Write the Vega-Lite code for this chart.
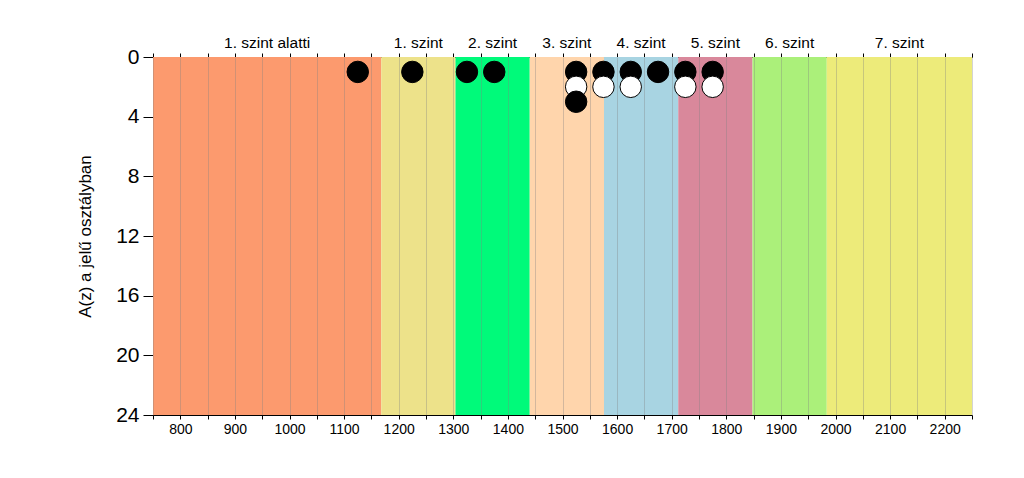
{
  "$schema": "https://vega.github.io/schema/vega-lite/v6.json",
  "width": 819,
  "height": 358,
  "autosize": {"type": "none"},
  "padding": {"left": 153, "top": 57, "right": 52, "bottom": 63},
  "background": "white",
  "config": {
    "view": {"stroke": null},
    "font": "Liberation Sans",
    "axis": {
      "labelColor": "black",
      "titleColor": "black",
      "domainColor": "black",
      "tickColor": "black",
      "labelFont": "Liberation Sans",
      "titleFont": "Liberation Sans"
    }
  },
  "datasets": {
    "bands": [
      {"band": "1. szint alatti", "start": 750, "end": 1168},
      {"band": "1. szint", "start": 1168, "end": 1304},
      {"band": "2. szint", "start": 1304, "end": 1440},
      {"band": "3. szint", "start": 1440, "end": 1576},
      {"band": "4. szint", "start": 1576, "end": 1712},
      {"band": "5. szint", "start": 1712, "end": 1848},
      {"band": "6. szint", "start": 1848, "end": 1984},
      {"band": "7. szint", "start": 1984, "end": 2250}
    ],
    "points": [
      {"score": 1125, "count": 1, "group": "A"},
      {"score": 1225, "count": 1, "group": "A"},
      {"score": 1325, "count": 1, "group": "A"},
      {"score": 1375, "count": 1, "group": "A"},
      {"score": 1525, "count": 1, "group": "A"},
      {"score": 1575, "count": 1, "group": "A"},
      {"score": 1625, "count": 1, "group": "A"},
      {"score": 1675, "count": 1, "group": "A"},
      {"score": 1725, "count": 1, "group": "A"},
      {"score": 1775, "count": 1, "group": "A"},
      {"score": 1525, "count": 2, "group": "B"},
      {"score": 1575, "count": 2, "group": "B"},
      {"score": 1625, "count": 2, "group": "B"},
      {"score": 1725, "count": 2, "group": "B"},
      {"score": 1775, "count": 2, "group": "B"},
      {"score": 1525, "count": 3, "group": "A"}
    ]
  },
  "layer": [
    {
      "data": {"name": "bands"},
      "mark": {"type": "rect"},
      "encoding": {
        "x": {
          "field": "start",
          "type": "quantitative",
          "scale": {"domain": [750, 2250], "nice": false, "zero": false},
          "axis": {
            "orient": "bottom",
            "title": null,
            "values": [750, 800, 850, 900, 950, 1000, 1050, 1100, 1150, 1200, 1250, 1300, 1350, 1400, 1450, 1500, 1550, 1600, 1650, 1700, 1750, 1800, 1850, 1900, 1950, 2000, 2050, 2100, 2150, 2200, 2250],
            "format": "d",
            "labelExpr": "datum.value % 100 === 0 ? datum.label : ''",
            "grid": true,
            "gridColor": "#808080",
            "gridOpacity": 0.35,
            "tickSize": 4,
            "labelFontSize": 14,
            "labelPadding": 3,
            "labelFlush": false,
            "zindex": 1
          }
        },
        "x2": {"field": "end"},
        "y": {
          "datum": 0,
          "type": "quantitative",
          "scale": {"domain": [0, 24], "reverse": true, "nice": false, "zero": false},
          "axis": {
            "title": "A(z) a jelű osztályban",
            "values": [0, 4, 8, 12, 16, 20, 24],
            "grid": false,
            "tickSize": 10,
            "labelFontSize": 21,
            "labelPadding": 4,
            "titleFontSize": 17,
            "titleFontWeight": "normal",
            "titlePadding": 21
          }
        },
        "y2": {"datum": 24},
        "color": {
          "field": "band",
          "type": "nominal",
          "scale": {
            "domain": ["1. szint alatti", "1. szint", "2. szint", "3. szint", "4. szint", "5. szint", "6. szint", "7. szint"],
            "range": ["#FC9A6E", "#EDE28A", "#00FA7A", "#FFD5AC", "#A8D4E2", "#D9889B", "#ABF07A", "#EDEB7A"]
          },
          "legend": null
        }
      }
    },
    {
      "data": {"name": "bands"},
      "transform": [{"calculate": "(datum.start + datum.end) / 2", "as": "mid"}],
      "mark": {"type": "text", "baseline": "middle", "align": "center", "dy": -14, "fontSize": 15.5, "color": "black", "font": "Liberation Sans"},
      "encoding": {
        "x": {
          "field": "mid",
          "type": "quantitative",
          "axis": {
            "orient": "top",
            "title": null,
            "values": [750, 800, 850, 900, 950, 1000, 1050, 1100, 1150, 1200, 1250, 1300, 1350, 1400, 1450, 1500, 1550, 1600, 1650, 1700, 1750, 1800, 1850, 1900, 1950, 2000, 2050, 2100, 2150, 2200, 2250],
            "labels": false,
            "grid": false,
            "tickSize": 4
          }
        },
        "y": {
          "datum": 0,
          "type": "quantitative",
          "axis": {
            "title": "A(z) a jelű osztályban",
            "values": [0, 4, 8, 12, 16, 20, 24],
            "grid": false,
            "tickSize": 10,
            "labelFontSize": 21,
            "labelPadding": 4,
            "titleFontSize": 17,
            "titleFontWeight": "normal",
            "titlePadding": 21
          }
        },
        "text": {"field": "band"}
      }
    },
    {
      "data": {"name": "points"},
      "mark": {"type": "circle", "size": 460, "stroke": "black", "strokeWidth": 1, "opacity": 1},
      "encoding": {
        "x": {"field": "score", "type": "quantitative", "axis": null},
        "y": {
          "field": "count",
          "type": "quantitative",
          "axis": {
            "title": "A(z) a jelű osztályban",
            "values": [0, 4, 8, 12, 16, 20, 24],
            "grid": false,
            "tickSize": 10,
            "labelFontSize": 21,
            "labelPadding": 4,
            "titleFontSize": 17,
            "titleFontWeight": "normal",
            "titlePadding": 21
          }
        },
        "color": {
          "field": "group",
          "type": "nominal",
          "scale": {"domain": ["A", "B"], "range": ["black", "white"]},
          "legend": null
        }
      }
    }
  ],
  "resolve": {"scale": {"color": "independent"}, "axis": {"x": "independent"}}
}
